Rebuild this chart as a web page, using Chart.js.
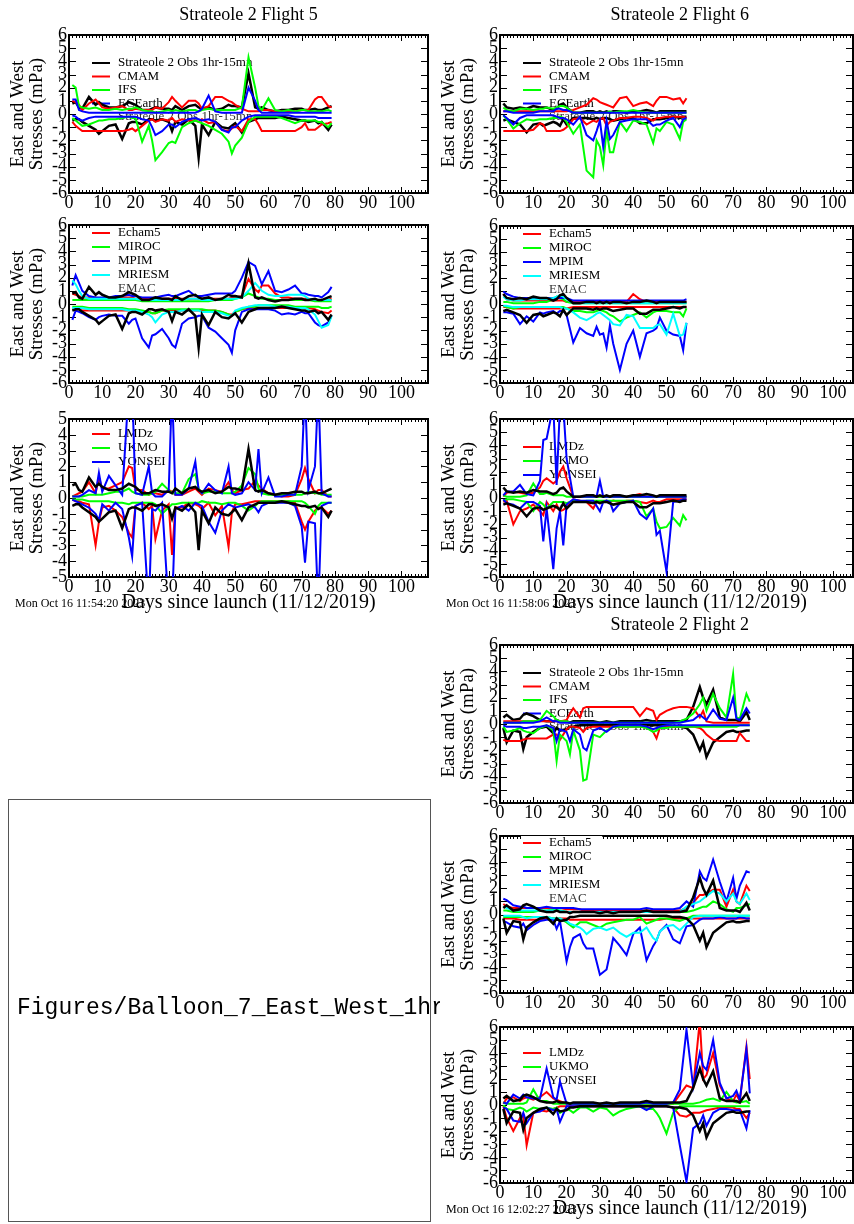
<!DOCTYPE html>
<html>
<head>
<meta charset="utf-8">
<script src="https://cdn.jsdelivr.net/npm/chart.js@4.4.0/dist/chart.umd.min.js"></script>
<style>
  body { margin: 0; width: 854px; height: 1224px; overflow: hidden; background: #fff; position: relative; }
  canvas { position: absolute; }
  #missing { position: absolute; left: 8px; top: 799px; width: 421px; height: 421px; border: 1px solid #555; }
  #missingText { position: absolute; left: 17px; top: 995px; width: 423px; overflow: hidden; white-space: nowrap;
                 font: 23px "Liberation Mono", monospace; line-height: 26px; color: #000; }
</style>
</head>
<body>
<canvas id="f5a"></canvas><canvas id="f5b"></canvas><canvas id="f5c"></canvas>
<canvas id="f6a"></canvas><canvas id="f6b"></canvas><canvas id="f6c"></canvas>
<canvas id="f2a"></canvas><canvas id="f2b"></canvas><canvas id="f2c"></canvas>
<div id="missing"></div>
<div id="missingText">Figures/Balloon_7_East_West_1hr</div>
<script>
// ── tick labels ──────────────────────────────────────────────────────────────
const xTicks  = [0, 10, 20, 30, 40, 50, 60, 70, 80, 90, 100]
const yTicks6 = [-6, -5, -4, -3, -2, -1, 0, 1, 2, 3, 4, 5, 6]
const yTicks5 = [-5, -4, -3, -2, -1, 0, 1, 2, 3, 4, 5]

// ── legends ──────────────────────────────────────────────────────────────────
const legendObs   = ["Strateole 2 Obs 1hr-15mn", "CMAM", "IFS", "ECEarth", "Strateole 2 Obs 1hr-15mn"]
const legendMid   = ["Echam5", "MIROC", "MPIM", "MRIESM", "EMAC"]
const legendLow   = ["LMDz", "UKMO", "YONSEI"]

// ── Flight 5 (days since launch) ─────────────────────────────────────────────
const days5 = [1,2,3,4,6,8,9,10, 12,14,16,18,19,20,22,24, 25,26,28,30,31,32,34,36, 38,39,40,42,44,46,48,49, 50,52,54,56,57,58,60,62, 64,66,68,70,71,72,74,75, 76,78,79]

const f5ObsE  = [0.8,0.9,0.5,0.4,1.3,0.7,0.9,0.7, 0.5,0.5,0.6,0.9,0.8,0.7,0.3,0.3, 0.4,0.5,0.4,0.4,0.3,0.6,0.3,0.6, 0.7,0.5,0.4,0.5,0.3,0.4,0.7,0.6, 0.6,0.5,3.1,0.5,0.4,0.5,0.3,0.2, 0.3,0.3,0.4,0.4,0.3,0.3,0.4,0.3, 0.3,0.5,0.6]
const f5ObsW  = [-0.5,-0.4,-0.4,-0.6,-0.9,-1.2,-1.5,-1.3, -0.9,-0.8,-1.9,-0.7,-0.6,-0.6,-0.8,-0.4, -0.4,-0.5,-0.4,-0.6,-1.3,-0.6,-0.8,-0.4, -0.9,-3.3,-0.8,-1.6,-0.6,-1.0,-1.1,-0.9, -0.7,-1.4,-0.6,-0.4,-0.3,-0.3,-0.3,-0.3, -0.2,-0.3,-0.4,-0.5,-0.5,-0.6,-0.5,-0.7, -0.6,-1.2,-0.8]
const f5CmamE = [1.0,0.9,0.7,0.3,0.8,1.1,0.8,0.5, 0.4,0.5,0.6,0.3,0.3,0.4,0.3,0.3, 0.3,0.5,0.4,0.9,1.3,1.0,0.5,1.0, 1.0,0.8,0.4,0.6,1.3,1.3,1.0,0.9, 0.7,0.4,0.2,0.2,0.2,0.3,0.3,0.2, 0.2,0.2,0.2,0.3,0.3,0.3,1.1,1.3, 1.3,0.6,0.5]
const f5CmamW = [-0.6,-0.9,-1.1,-1.3,-1.3,-1.3,-1.3,-1.3, -1.3,-1.3,-1.3,-1.2,-1.1,-1.3,-0.9,-0.5, -0.4,-0.6,-0.4,-0.5,-0.3,-0.6,-0.4,-0.5, -0.5,-0.6,-0.4,-0.7,-0.6,-1.2,-1.3,-1.1, -0.9,-1.3,-0.4,-0.4,-0.8,-1.3,-1.3,-1.3, -1.3,-1.3,-1.3,-1.0,-0.7,-1.2,-1.2,-1.0, -0.8,-0.7,-0.6]
const f5IfsE  = [2.2,2.0,0.6,0.5,0.4,0.5,0.4,0.3, 0.3,0.4,0.3,0.4,0.4,0.5,0.3,0.2, 0.2,0.1,0.2,0.3,0.2,0.3,0.2,0.3, 0.3,0.2,0.3,0.4,0.3,0.3,0.3,0.3, 0.3,0.5,4.3,2.0,0.6,0.3,1.2,0.3, 0.2,0.3,0.2,0.3,0.3,0.2,0.2,0.2, 0.2,0.3,0.2]
const f5IfsW  = [-0.3,-0.5,-0.7,-0.9,-0.8,-0.6,-0.5,-0.5, -0.4,-0.4,-0.3,-0.2,-0.3,-0.3,-2.1,-0.9, -2.0,-3.5,-2.9,-2.2,-2.1,-2.2,-1.0,-0.7, -0.5,-0.6,-0.7,-0.9,-1.2,-1.5,-2.1,-3.0, -2.4,-1.8,-0.6,-0.2,-0.2,-0.2,-0.2,-0.2, -0.3,-0.5,-0.7,-0.5,-0.5,-0.5,-0.5,-0.6, -0.6,-1.0,-0.7]
const f5EceE  = [1.1,1.1,0.3,0.2,0.1,0.1,0.1,0.1, 0.1,0.1,0.1,0.1,0.1,0.1,0.1,0.1, 0.1,0.1,0.1,0.1,0.1,0.1,0.1,0.1, 0.1,0.2,0.4,1.4,0.2,0.1,0.1,0.1, 0.1,0.1,2.0,1.0,0.3,0.1,0.1,0.1, 0.1,0.1,0.1,0.1,0.1,0.1,0.1,0.1, 0.1,0.1,0.1]
const f5EceW  = [-0.1,-0.2,-0.4,-0.5,-0.3,-0.2,-0.2,-0.2, -0.2,-0.2,-0.2,-0.2,-0.2,-0.2,-0.4,-0.5, -1.0,-1.6,-1.3,-0.8,-0.8,-1.0,-0.6,-0.4, -0.3,-0.4,-0.5,-0.4,-0.6,-1.2,-1.4,-1.0, -1.0,-0.5,-0.2,-0.1,-0.1,-0.1,-0.1,-0.1, -0.1,-0.1,-0.2,-0.2,-0.2,-0.2,-0.2,-0.3, -0.3,-0.3,-0.3]

const f5EchE  = [0.8,0.7,0.6,0.5,0.5,0.5,0.4,0.4, 0.4,0.5,0.5,0.5,0.5,0.4,0.4,0.4, 0.4,0.4,0.4,0.4,0.4,0.4,0.4,0.4, 0.4,0.4,0.4,0.4,0.4,0.4,0.4,0.5, 0.5,0.6,1.9,1.1,0.9,1.4,1.4,0.8, 0.5,0.5,0.4,0.4,0.4,0.4,0.3,0.3, 0.3,0.3,0.4]
const f5EchW  = [-0.4,-0.4,-0.4,-0.5,-0.5,-0.5,-0.5,-0.5, -0.5,-0.5,-0.5,-0.5,-0.5,-0.5,-0.6,-0.6, -0.7,-0.7,-0.5,-0.5,-0.5,-0.5,-0.5,-0.5, -0.5,-0.5,-0.5,-0.5,-0.5,-0.6,-0.8,-0.8, -0.6,-0.4,-0.3,-0.3,-0.3,-0.3,-0.3,-0.3, -0.3,-0.3,-0.3,-0.3,-0.3,-0.3,-0.4,-0.5, -0.6,-0.7,-0.5]
const f5MirE  = [0.3,0.3,0.3,0.3,0.3,0.3,0.3,0.3, 0.3,0.3,0.3,0.3,0.3,0.3,0.2,0.2, 0.2,0.2,0.2,0.2,0.2,0.2,0.2,0.2, 0.2,0.2,0.2,0.2,0.3,0.3,0.3,0.3, 0.4,0.5,0.8,0.6,0.5,0.4,0.4,0.3, 0.3,0.3,0.3,0.3,0.3,0.3,0.2,0.2, 0.2,0.2,0.2]
const f5MirW  = [-0.2,-0.2,-0.2,-0.2,-0.3,-0.3,-0.3,-0.3, -0.3,-0.3,-0.3,-0.4,-0.4,-0.4,-0.5,-0.6, -0.7,-0.7,-0.5,-0.4,-0.4,-0.4,-0.4,-0.4, -0.4,-0.4,-0.4,-0.5,-0.5,-0.6,-0.8,-0.9, -0.6,-0.4,-0.2,-0.2,-0.1,-0.1,-0.1,-0.1, -0.1,-0.1,-0.2,-0.2,-0.2,-0.2,-0.2,-0.2, -0.3,-0.3,-0.2]
const f5MpiE  = [1.4,2.2,1.6,1.0,0.6,0.5,0.5,0.5, 0.5,0.6,0.6,0.7,0.6,0.6,0.5,0.5, 0.5,0.5,0.6,0.7,0.6,0.6,0.8,1.0, 0.6,0.6,0.6,0.7,0.8,0.8,0.8,0.8, 1.0,2.0,3.2,2.9,2.2,1.5,2.5,1.0, 0.9,1.1,1.4,0.8,0.8,0.7,0.6,0.6, 0.5,0.9,1.3]
const f5MpiW  = [-1.2,-0.5,-0.6,-0.7,-1.0,-1.2,-1.0,-0.9, -0.8,-0.9,-0.9,-1.5,-1.2,-1.1,-2.6,-3.3, -2.4,-2.3,-1.9,-2.6,-3.1,-3.3,-1.5,-1.1, -1.0,-0.9,-0.9,-1.8,-2.1,-2.6,-3.1,-3.7, -2.0,-0.6,-0.4,-0.4,-0.4,-0.4,-0.4,-0.5, -0.8,-0.7,-0.8,-0.6,-0.7,-0.7,-1.4,-1.6, -1.7,-1.4,-0.9]
const f5MriE  = [1.8,1.5,1.0,0.6,0.4,0.4,0.4,0.4, 0.4,0.4,0.4,0.4,0.4,0.4,0.3,0.3, 0.3,0.3,0.3,0.3,0.3,0.3,0.3,0.4, 0.4,0.4,0.3,0.3,0.3,0.4,0.4,0.4, 0.4,0.5,1.0,1.6,1.3,1.0,0.7,0.6, 0.6,0.7,0.7,0.7,0.6,0.4,0.3,0.3, 0.3,0.3,0.3]
const f5MriW  = [-0.3,-0.3,-0.3,-0.3,-0.4,-0.4,-0.4,-0.4, -0.4,-0.4,-0.4,-0.5,-0.5,-0.5,-0.6,-0.8, -1.0,-1.4,-0.8,-0.6,-0.6,-0.6,-0.5,-0.5, -0.5,-0.5,-0.6,-0.6,-0.6,-0.7,-0.9,-0.9, -0.5,-0.3,-0.2,-0.1,-0.1,-0.1,-0.1,-0.2, -0.2,-0.2,-0.3,-0.3,-0.3,-0.4,-0.8,-1.3, -1.8,-1.6,-0.9]

const f5LmdE  = [0.1,0.2,0.3,0.4,1.0,0.3,1.3,0.6, 0.6,0.8,1.0,2.0,1.9,0.5,0.5,0.2, 0.3,0.3,0.2,0.5,0.4,0.2,0.2,0.4, 0.6,0.4,0.2,0.6,0.5,0.4,1.0,0.5, 0.3,0.5,0.6,1.1,0.8,0.6,0.3,0.2, 0.1,0.1,0.2,1.2,1.9,1.2,0.3,0.5, 0.5,0.1,0.1]
const f5LmdW  = [-0.1,-0.2,-0.2,-0.3,-0.4,-3.0,-1.5,-0.6, -0.5,-0.8,-1.2,-2.2,-2.5,-0.5,-0.3,-0.7, -0.5,-2.6,-0.8,-0.4,-3.6,-0.6,-0.6,-0.3, -0.4,-0.5,-0.7,-0.3,-1.1,-0.5,-3.1,-0.9, -0.4,-0.4,-0.3,-0.2,-0.2,-0.2,-0.2,-0.2, -0.2,-0.2,-0.3,-1.5,-2.0,-1.5,-0.8,-0.6, -0.6,-1.0,-0.8]
const f5UkmE  = [0.1,0.1,0.1,0.1,0.2,0.2,0.2,0.2, 0.3,0.4,0.4,0.6,0.4,0.3,0.2,0.2, 0.3,0.4,0.9,0.5,0.3,0.3,0.3,1.2, 1.5,0.6,0.3,0.4,0.4,0.3,0.3,0.3, 0.4,0.8,1.9,1.5,0.6,0.3,0.2,0.2, 0.2,0.2,0.2,0.2,0.3,0.4,0.3,0.3, 0.2,0.2,0.2]
const f5UkmW  = [-0.1,-0.1,-0.1,-0.1,-0.2,-0.2,-0.2,-0.2, -0.2,-0.3,-0.3,-0.4,-0.3,-0.3,-0.3,-0.3, -0.3,-0.4,-1.0,-0.6,-0.4,-0.4,-0.3,-0.3, -0.3,-0.3,-0.2,-0.3,-0.3,-0.4,-0.3,-0.3, -0.3,-0.5,-0.8,-0.5,-0.3,-0.2,-0.2,-0.2, -0.2,-0.2,-0.2,-0.2,-0.3,-0.5,-1.0,-0.5, -0.3,-0.3,-0.3]
const f5YonE  = [0.1,0.1,0.1,0.2,0.5,0.3,1.6,0.4, 1.4,0.8,0.2,7,7,0.3,0.2,2.0, 0.3,0.1,0.1,0.5,7,0.2,0.2,0.6, 2.3,0.5,0.3,0.9,0.5,0.3,2.0,0.3, 0.2,0.3,1.0,0.5,3.1,0.3,1.3,0.1, 0.1,0.2,0.2,2.0,7,0.5,2.0,7, 0.3,0.1,0.1]
const f5YonW  = [-0.1,-0.2,-0.3,-0.4,-0.6,-1.0,-1.4,-0.4, -0.8,-0.3,-0.7,-2.5,-3.7,-0.5,-0.3,-7, -0.7,-0.8,-0.3,-7,-7,-0.7,-0.5,-0.8, -0.3,-0.4,-0.5,-1.5,-2.2,-0.8,-0.4,-0.5, -0.6,-0.5,-0.4,-0.6,-0.9,-0.5,-0.3,-0.3, -0.3,-0.3,-0.5,-1.8,-4.1,-1.5,-1.6,-7, -0.5,-0.3,-0.3]

// ── Flight 6 ─────────────────────────────────────────────────────────────────
const days6 = [1,2,4,6,8,10,12,13, 14,16,17,18,19,20,22,24, 26,28,29,30,31,32,33,34, 36,38,40,42,44,46,47,48, 50,52,54,55,56]

const f6ObsE  = [0.8,0.5,0.4,0.5,0.4,0.6,0.5,0.5, 0.5,0.3,0.4,0.7,0.8,0.5,0.1,0.1, 0.2,0.2,0.1,0.2,0.1,0.2,0.1,0.2, 0.2,0.1,0.2,0.2,0.3,0.2,0.1,0.2, 0.2,0.2,0.2,0.2,0.2]
const f6ObsW  = [-0.5,-0.4,-0.6,-0.8,-1.4,-0.8,-0.7,-0.9, -0.8,-0.6,-0.7,-0.9,-0.4,-0.8,-0.3,-0.3, -0.3,-0.4,-0.3,-0.4,-0.3,-0.3,-0.4,-0.5, -0.4,-0.3,-0.3,-0.7,-0.7,-0.4,-0.4,-0.4, -0.3,-0.2,-0.3,-0.2,-0.2]
const f6CmamE = [0.2,0.2,0.2,0.2,0.2,0.2,0.2,0.2, 0.2,0.2,0.2,0.2,0.2,0.2,0.3,0.5, 0.7,1.2,1.1,0.9,0.8,0.7,0.6,0.5, 1.2,1.3,0.6,0.8,0.9,0.6,1.0,1.3, 1.3,1.1,1.2,0.8,1.2]
const f6CmamW = [-1.3,-1.3,-1.3,-1.3,-1.3,-1.2,-0.7,-0.8, -1.3,-1.3,-1.3,-1.3,-1.2,-1.0,-0.4,-0.3, -0.8,-0.5,-0.6,-0.4,-0.3,-0.9,-0.6,-0.5, -0.3,-0.3,-0.2,-0.2,-0.3,-0.5,-0.3,-0.3, -0.2,-0.2,-0.2,-0.2,-0.3]
const f6IfsE  = [0.5,0.3,0.2,0.4,0.4,0.3,0.4,0.4, 0.5,0.4,0.5,0.6,0.6,0.5,0.1,0.1, 0.1,0.1,0.1,0.1,0.1,0.1,0.2,0.1, 0.2,0.2,0.3,0.2,0.1,0.1,0.1,0.1, 0.1,0.1,0.1,0.1,0.1]
const f6IfsW  = [-0.1,-0.4,-1.1,-0.7,-0.4,-0.5,-0.4,-0.4, -0.4,-0.3,-0.3,-0.2,-0.3,-0.6,-1.5,-0.8, -4.3,-4.8,-2.0,-2.5,-3.9,-1.2,-2.9,-2.9, -0.6,-1.3,-0.5,-0.6,-0.8,-2.2,-1.1,-1.3, -0.6,-0.8,-1.9,-0.6,-0.4]
const f6EceE  = [0.2,0.2,0.1,0.1,0.1,0.1,0.2,0.2, 0.2,0.2,0.4,0.4,0.3,0.3,0.1,0.1, 0.1,0.1,0.1,0.1,0.1,0.1,0.1,0.1, 0.1,0.1,0.1,0.1,0.1,0.1,0.1,0.1, 0.1,0.1,0.1,0.1,0.1]
const f6EceW  = [-0.1,-0.3,-0.8,-0.3,-0.1,-0.1,-0.1,-0.1, -0.1,-0.1,-0.2,-0.3,-0.3,-0.4,-0.8,-0.2, -1.6,-2.0,-1.3,-0.5,-2.5,-0.5,-1.9,-1.6, -0.6,-0.5,-0.4,-0.4,-0.4,-0.9,-0.8,-0.8, -0.5,-0.3,-1.0,-0.4,-0.3]

const f6EchE  = [0.8,0.4,0.3,0.3,0.3,0.3,0.3,0.3, 0.3,0.3,0.3,0.3,0.3,0.2,0.2,0.2, 0.2,0.2,0.2,0.2,0.2,0.2,0.2,0.2, 0.2,0.2,0.8,0.4,0.2,0.2,0.2,0.2, 0.2,0.2,0.2,0.2,0.2]
const f6EchW  = [-0.2,-0.2,-0.3,-0.3,-0.3,-0.3,-0.3,-0.3, -0.3,-0.3,-0.3,-0.3,-0.3,-0.3,-0.2,-0.2, -0.2,-0.2,-0.2,-0.2,-0.2,-0.2,-0.2,-0.2, -0.2,-0.2,-0.2,-0.2,-0.2,-0.2,-0.2,-0.2, -0.2,-0.2,-0.2,-0.2,-0.2]
const f6MirE  = [0.2,0.2,0.1,0.1,0.1,0.1,0.2,0.2, 0.2,0.4,0.6,0.5,0.4,0.2,0.1,0.1, 0.1,0.1,0.1,0.1,0.1,0.1,0.1,0.1, 0.1,0.1,0.1,0.1,0.1,0.1,0.1,0.1, 0.1,0.1,0.1,0.1,0.1]
const f6MirW  = [-0.1,-0.2,-0.3,-0.2,-0.2,-0.2,-0.2,-0.2, -0.2,-0.2,-0.2,-0.2,-0.2,-0.3,-0.5,-0.5, -0.6,-0.6,-0.5,-0.4,-0.5,-0.6,-0.8,-0.9, -1.3,-1.0,-0.8,-0.6,-1.0,-0.6,-0.5,-0.5, -0.5,-0.6,-0.6,-0.9,-0.3]
const f6MpiE  = [1.0,0.8,0.6,0.5,0.5,0.5,0.5,0.5, 0.5,0.5,0.5,0.5,0.5,0.5,0.3,0.3, 0.3,0.3,0.3,0.3,0.3,0.3,0.3,0.3, 0.3,0.3,0.3,0.3,0.3,0.3,0.3,0.3, 0.3,0.3,0.3,0.3,0.4]
const f6MpiW  = [-0.6,-0.6,-0.7,-1.5,-0.9,-1.3,-0.6,-0.7, -0.6,-0.5,-0.7,-0.5,-0.5,-0.8,-2.9,-1.8, -2.2,-2.4,-1.7,-2.3,-2.2,-3.3,-1.6,-3.0, -5.0,-3.0,-2.0,-4.0,-2.2,-2.0,-1.8,-1.0, -2.0,-2.3,-2.4,-3.5,-1.4]
const f6MriE  = [0.6,0.4,0.3,0.3,0.4,0.4,0.4,0.4, 0.4,0.5,0.6,0.7,0.6,0.4,0.1,0.1, 0.1,0.1,0.1,0.1,0.1,0.1,0.1,0.1, 0.1,0.1,0.1,0.1,0.1,0.1,0.1,0.1, 0.1,0.1,0.1,0.1,0.1]
const f6MriW  = [-0.1,-0.1,-0.2,-0.2,-0.2,-0.2,-0.2,-0.2, -0.2,-0.2,-0.2,-0.2,-0.3,-0.3,-0.6,-1.0, -1.2,-0.9,-0.7,-0.6,-0.8,-1.0,-1.2,-1.5, -1.6,-0.8,-0.9,-1.8,-1.8,-1.8,-1.6,-1.5, -2.3,-0.7,-2.4,-2.3,-1.4]

const f6LmdE  = [0.1,0.4,0.5,0.4,0.3,0.4,0.8,1.3, 1.5,1.1,1.3,2.0,2.4,1.5,0.1,0.1, 0.1,0.1,0.1,0.1,0.1,0.1,0.1,0.1, 0.1,0.1,0.2,0.3,0.1,0.1,0.1,0.1, 0.1,0.1,0.1,0.1,0.1]
const f6LmdW  = [-0.3,-0.2,-2.0,-1.0,-0.8,-0.5,-1.0,-1.3, -0.3,-1.0,-0.5,-1.0,-0.9,-0.7,-0.1,-0.2, -0.3,-0.8,-0.3,-0.3,-0.3,-0.2,-0.3,-0.2, -0.3,-0.2,-0.2,-0.3,-0.4,-0.2,-0.3,-0.3, -0.1,-0.1,-0.1,-0.1,-0.1]
const f6UkmE  = [0.2,0.1,0.1,0.1,0.2,1.1,0.3,0.3, 0.4,0.2,0.2,0.2,0.2,0.1,0.1,0.1, 0.1,0.1,0.1,0.1,0.1,0.1,0.1,0.1, 0.1,0.1,0.1,0.1,0.1,0.1,0.1,0.1, 0.1,0.1,0.1,0.1,0.1]
const f6UkmW  = [-0.2,-0.1,-0.1,-0.2,-0.3,-1.0,-0.3,-0.5, -0.8,-0.3,-0.3,-0.3,-0.3,-0.4,-0.2,-0.3, -0.2,-0.2,-0.2,-0.2,-0.2,-0.2,-0.2,-0.2, -0.2,-0.2,-0.2,-0.3,-1.4,-0.8,-1.8,-2.3, -2.2,-1.5,-2.1,-1.3,-1.7]
const f6YonE  = [0.2,0.5,0.5,1.0,0.3,0.2,1.3,4.4, 4.5,7,1.0,7,7,3.0,0.1,0.1, 0.1,0.1,0.1,1.3,0.1,0.1,0.1,0.1, 0.1,0.1,0.1,0.1,0.1,0.1,0.1,0.1, 0.1,0.1,0.1,0.1,0.1]
const f6YonW  = [-0.1,-0.4,-0.5,-0.8,-0.3,-0.3,-0.6,-3.3, -0.8,-5.4,-2.3,-1.0,-3.6,-0.5,-0.1,-0.2, -0.2,-0.2,-0.6,-1.0,-0.3,-0.2,-0.3,-1.0, -0.4,-0.3,-0.2,-1.2,-1.6,-0.8,-2.8,-2.5, -5.6,-0.3,-0.2,-0.1,-0.1]

// ── Flight 2 ─────────────────────────────────────────────────────────────────
const days2 = [1,2,4,6,7,8,10,12, 14,16,17,18,20,21,22,24, 25,26,28,30,32,34,36,38, 40,42,44,46,47,48,50,52, 54,56,58,60,61,62,64,66, 68,70,71,72,74,75]

const f2ObsE  = [0.5,0.7,0.3,0.4,0.7,0.8,0.6,0.3, 0.2,0.2,0.3,0.2,0.2,0.1,0.2,0.2, 0.2,0.2,0.2,0.1,0.2,0.1,0.2,0.2, 0.2,0.2,0.3,0.2,0.2,0.2,0.2,0.2, 0.2,0.3,1.3,2.8,2.0,1.5,2.6,0.5, 0.3,0.3,0.3,0.2,0.9,0.3]
const f2ObsW  = [-0.3,-1.4,-0.5,-0.6,-1.9,-1.0,-0.6,-0.3, -0.2,-0.7,-0.3,-0.5,-0.4,-0.2,-0.2,-0.1, -0.1,-0.1,-0.1,-0.1,-0.1,-0.1,-0.1,-0.1, -0.1,-0.1,-0.1,-0.1,-0.1,-0.1,-0.1,-0.2, -0.2,-0.3,-0.8,-2.0,-1.4,-2.5,-1.4,-1.0, -0.6,-0.5,-0.6,-0.6,-0.5,-0.5]
const f2CmamE = [0.2,0.2,0.2,0.2,0.2,0.2,0.2,0.2, 0.2,0.2,0.2,0.2,0.3,0.8,1.2,0.5, 1.2,1.3,1.3,1.3,1.3,1.3,1.3,1.3, 1.3,0.6,1.2,1.0,0.3,0.7,1.0,1.2, 1.3,1.3,1.2,0.5,1.0,0.2,0.1,0.1, 0.1,0.1,0.1,0.1,0.1,0.1]
const f2CmamW = [-1.2,-1.3,-1.3,-1.3,-1.2,-1.1,-1.1,-1.1, -1.1,-0.8,-0.8,-1.2,-0.4,-0.2,-0.2,-0.3, -0.6,-0.3,-0.2,-0.2,-0.2,-0.2,-0.2,-0.2, -0.2,-0.2,-0.2,-0.6,-1.1,-0.3,-0.2,-0.2, -0.2,-0.2,-0.2,-0.3,-0.5,-0.8,-1.2,-1.3, -1.3,-1.3,-1.3,-0.7,-1.3,-1.3]
const f2IfsE  = [0.1,0.1,0.1,0.1,0.2,0.2,0.2,0.3, 1.0,0.6,0.3,0.2,0.2,0.1,0.1,0.1, 0.1,0.1,0.1,0.1,0.1,0.1,0.1,0.1, 0.1,0.1,0.1,0.1,0.1,0.1,0.1,0.1, 0.2,0.4,0.8,1.5,2.0,1.0,2.3,1.2, 0.5,3.8,0.5,0.4,2.3,1.7]
const f2IfsW  = [-0.2,-0.6,-0.5,-0.3,-0.5,-0.6,-0.7,-0.3, -0.1,-0.5,-2.8,-0.8,-1.3,-2.3,-0.5,-2.0, -4.3,-4.2,-0.8,-1.0,-0.5,-0.2,-0.2,-0.2, -0.2,-0.2,-0.3,-0.6,-0.5,-0.3,-0.3,-0.2, -0.2,-0.2,-0.2,-0.2,-0.2,-0.2,-0.2,-0.2, -0.2,-0.2,-0.2,-0.1,-0.1,-0.1]
const f2EceE  = [0.1,0.1,0.1,0.1,0.1,0.1,0.1,0.2, 0.5,0.2,0.2,0.1,0.1,0.1,0.1,0.1, 0.1,0.1,0.1,0.1,0.1,0.1,0.1,0.1, 0.1,0.1,0.1,0.1,0.1,0.1,0.1,0.1, 0.1,0.2,0.3,0.7,0.5,0.3,1.1,0.4, 0.3,2.0,0.4,0.3,1.2,0.8]
const f2EceW  = [-0.1,-0.2,-0.2,-0.2,-0.3,-0.3,-0.2,-0.2, -0.1,-0.3,-1.3,-0.4,-0.6,-1.3,-0.4,-0.8, -1.8,-2.0,-0.5,-0.3,-0.6,-0.2,-0.1,-0.1, -0.1,-0.1,-0.2,-0.4,-0.3,-0.2,-0.1,-0.1, -0.1,-0.1,-0.1,-0.1,-0.1,-0.1,-0.1,-0.1, -0.1,-0.1,-0.1,-0.1,-0.1,-0.1]

const f2EchE  = [0.8,0.6,0.5,0.5,0.5,0.5,0.5,0.5, 0.5,0.5,0.5,0.5,0.4,0.4,0.4,0.4, 0.3,0.3,0.3,0.3,0.3,0.3,0.3,0.3, 0.3,0.3,0.3,0.3,0.3,0.3,0.3,0.3, 0.3,0.5,0.9,1.5,1.5,1.6,1.9,1.9, 0.6,1.9,1.0,0.8,2.2,1.8]
const f2EchW  = [-0.3,-0.3,-0.3,-0.4,-0.4,-0.4,-0.4,-0.4, -0.3,-0.3,-0.3,-0.3,-0.3,-0.4,-0.4,-0.4, -0.4,-0.4,-0.4,-0.4,-0.4,-0.4,-0.4,-0.4, -0.4,-0.4,-0.4,-0.4,-0.4,-0.4,-0.3,-0.3, -0.3,-0.3,-0.3,-0.3,-0.3,-0.3,-0.3,-0.3, -0.3,-0.3,-0.3,-0.3,-0.3,-0.3]
const f2MirE  = [0.3,0.3,0.2,0.2,0.2,0.2,0.2,0.3, 0.3,0.4,0.4,0.3,0.2,0.2,0.2,0.2, 0.2,0.2,0.2,0.2,0.2,0.2,0.2,0.2, 0.2,0.2,0.2,0.2,0.2,0.2,0.2,0.2, 0.2,0.2,0.3,0.5,0.6,0.6,1.0,0.8, 0.4,0.2,0.5,0.5,0.7,0.8]
const f2MirW  = [-0.2,-0.2,-0.2,-0.2,-0.2,-0.2,-0.2,-0.2, -0.2,-0.3,-0.3,-0.3,-0.6,-0.8,-1.0,-0.6, -0.6,-0.6,-0.8,-1.0,-0.7,-0.6,-0.5,-0.4, -0.4,-0.2,-0.7,-0.5,-0.4,-0.3,-0.3,-0.4, -0.5,-0.3,-0.1,-0.1,-0.1,-0.1,-0.1,-0.1, -0.1,-0.1,-0.1,-0.1,-0.1,-0.1]
const f2MpiE  = [1.2,1.1,0.7,0.6,0.6,0.5,0.5,0.5, 0.6,0.5,0.5,0.5,0.5,0.5,0.5,0.4, 0.4,0.4,0.4,0.4,0.4,0.4,0.4,0.4, 0.4,0.4,0.5,0.4,0.4,0.4,0.4,0.4, 0.5,1.0,0.6,3.3,2.8,2.6,4.2,2.5, 1.0,2.8,1.2,2.2,3.3,3.2]
const f2MpiW  = [-0.5,-0.6,-0.9,-1.0,-0.7,-1.2,-0.8,-0.5, -0.4,-0.4,-1.1,-0.5,-3.6,-2.5,-1.8,-1.5, -2.2,-2.6,-2.6,-4.6,-4.2,-1.8,-2.4,-3.1, -1.5,-1.0,-3.5,-2.4,-2.0,-1.3,-0.8,-1.9, -2.2,-0.9,-0.8,-0.4,-0.3,-0.3,-0.3,-0.2, -0.3,-0.3,-0.3,-0.2,-0.3,-0.3]
const f2MriE  = [0.6,0.5,0.3,0.3,0.3,0.3,0.3,0.3, 0.3,0.3,0.3,0.3,0.2,0.2,0.2,0.2, 0.2,0.2,0.2,0.2,0.2,0.2,0.2,0.2, 0.2,0.2,0.2,0.2,0.2,0.2,0.2,0.2, 0.2,0.6,0.8,1.0,1.2,1.4,1.8,1.6, 1.0,1.6,1.0,0.8,1.6,1.1]
const f2MriW  = [-0.1,-0.1,-0.1,-0.1,-0.2,-0.3,-0.2,-0.2, -0.2,-0.3,-0.3,-0.3,-0.5,-0.7,-0.8,-1.0, -1.2,-1.5,-1.1,-1.0,-1.2,-1.0,-1.4,-1.7, -1.4,-1.4,-1.0,-1.8,-2.0,-1.3,-0.9,-0.8, -1.2,-0.7,-0.2,-0.1,-0.1,-0.1,-0.1,-0.1, -0.1,-0.1,-0.1,-0.1,-0.1,-0.1]

const f2LmdE  = [0.1,0.5,0.6,0.3,0.5,0.6,0.4,0.6, 1.0,0.5,0.4,0.3,0.1,0.1,0.1,0.1, 0.1,0.1,0.1,0.1,0.1,0.1,0.1,0.1, 0.1,0.1,0.1,0.1,0.1,0.1,0.1,0.1, 0.8,1.5,1.3,6.5,2.0,2.3,4.0,1.5, 0.5,0.3,0.8,0.3,4.5,2.0]
const f2LmdW  = [-0.1,-1.0,-2.0,-1.0,-0.8,-3.1,-0.6,-0.4, -0.5,-0.3,-0.2,-0.1,-0.1,-0.1,-0.1,-0.1, -0.1,-0.1,-0.1,-0.1,-0.1,-0.1,-0.1,-0.1, -0.1,-0.1,-0.1,-0.1,-0.1,-0.1,-0.1,-0.2, -0.8,-0.9,-0.6,-0.6,-0.5,-0.4,-0.3,-0.2, -0.2,-0.2,-0.3,-0.3,-1.0,-0.6]
const f2UkmE  = [0.2,0.1,0.1,0.1,0.1,0.2,1.2,0.3, 0.3,0.1,0.1,0.1,0.1,0.1,0.1,0.1, 0.1,0.1,0.1,0.1,0.1,0.1,0.1,0.1, 0.1,0.1,0.1,0.1,0.1,0.1,0.1,0.1, 0.1,0.1,0.1,0.2,0.3,0.4,0.5,0.3, 1.0,0.3,0.2,0.2,0.3,0.1]
const f2UkmW  = [0.0,-0.3,-0.4,-0.2,-0.3,-0.5,-0.2,-0.3, -0.2,-0.3,-0.2,-0.6,-0.3,-0.4,-0.6,-0.2, -0.2,-0.2,-0.5,-0.2,-0.3,-0.8,-0.5,-0.3, -0.2,-0.1,-0.3,-0.3,-0.6,-1.0,-2.2,-0.6, -0.1,-0.1,-0.1,-0.1,-0.1,-0.1,-0.1,-0.1, -0.1,-0.1,-0.1,-0.1,-0.1,-0.1]
const f2YonE  = [0.2,0.1,0.8,0.5,0.8,0.6,0.5,0.5, 2.8,0.6,0.4,1.8,0.1,0.1,0.1,0.1, 0.1,0.1,0.1,0.1,0.1,0.1,0.1,0.1, 0.1,0.1,0.2,0.1,0.1,0.1,0.1,0.2, 1.2,5.8,1.4,4.0,3.0,2.7,5.0,1.7, 0.5,0.7,1.1,0.4,4.3,0.9]
const f2YonW  = [-0.2,-0.3,-1.2,-1.3,-0.6,-1.4,-0.6,-0.5, -0.2,-0.4,-0.3,-1.3,-0.1,-0.1,-0.1,-0.1, -0.1,-0.1,-0.1,-0.1,-0.1,-0.1,-0.1,-0.1, -0.1,-0.1,-0.4,-0.1,-0.1,-0.1,-0.1,-0.2, -3.1,-5.9,-1.8,-1.4,-0.8,-1.6,-0.6,-0.3, -0.3,-0.4,-0.4,-0.4,-1.8,-0.4]

// ── styling ──────────────────────────────────────────────────────────────────
const BLACK = "#000000", RED = "#ff0000", GREEN = "#00ff00", BLUE = "#0000ff", CYAN = "#00ffff"
const SERIF = '"Liberation Serif", "Times New Roman", serif'

// one model = an east line and a west line
function pair(name, color, days, east, west, width) {
  const base = { borderColor: color, borderWidth: width || 2, pointRadius: 0, fill: false, tension: 0 }
  return [
    { ...base, label: name + " east", data: east.map((v, i) => ({ x: days[i], y: v })) },
    { ...base, label: name + " west", data: west.map((v, i) => ({ x: days[i], y: v })) }
  ]
}

// ── frame / ticks / labels / legend, XMGrace style ──────────────────────────
const framePlugin = {
  id: "frame",
  beforeDatasetsDraw(chart, args, o) {
    const { ctx, chartArea: a, scales: { x, y } } = chart
    ctx.save()
    ctx.strokeStyle = BLACK
    ctx.fillStyle = BLACK

    // inward ticks: every day on top/bottom, every unit on left/right
    ctx.lineWidth = 1
    ctx.beginPath()
    for (let d = 0; d <= o.xMax; d++) {
      const px = Math.round(x.getPixelForValue(d)) + 0.5
      const len = d % 10 ? 3 : 6
      ctx.moveTo(px, a.top); ctx.lineTo(px, a.top + len)
      ctx.moveTo(px, a.bottom); ctx.lineTo(px, a.bottom - len)
    }
    o.yTicks.forEach(v => {
      const py = Math.round(y.getPixelForValue(v)) + 0.5
      ctx.moveTo(a.left, py); ctx.lineTo(a.left + 7, py)
      ctx.moveTo(a.right, py); ctx.lineTo(a.right - 7, py)
    })
    ctx.stroke()
    ctx.lineWidth = 2
    ctx.strokeRect(a.left, a.top, a.right - a.left, a.bottom - a.top)

    // tick labels
    ctx.font = "18px " + SERIF
    ctx.textAlign = "right"; ctx.textBaseline = "middle"
    o.yTicks.forEach(v => ctx.fillText(String(v), a.left - 2, y.getPixelForValue(v)))
    ctx.textAlign = "center"; ctx.textBaseline = "top"
    xTicks.forEach(v => ctx.fillText(String(v), x.getPixelForValue(v), a.bottom + 1))

    // y title, two rotated lines
    const midY = (a.top + a.bottom) / 2
    ctx.font = "19px " + SERIF
    ctx.textBaseline = "middle"
    ;[["East and West", 51], ["Stresses (mPa)", 32]].forEach(([t, dx]) => {
      ctx.save()
      ctx.translate(a.left - dx, midY)
      ctx.rotate(-Math.PI / 2)
      ctx.fillText(t, 0, 0)
      ctx.restore()
    })

    // panel title
    if (o.title) {
      ctx.font = "18px " + SERIF
      ctx.fillText(o.title, x.getPixelForValue(54), a.top - 20)
    }

    // date stamp + x title under the bottom panel
    if (o.stamp) {
      ctx.font = "12px " + SERIF
      ctx.textAlign = "left"
      ctx.fillText(o.stamp, a.left - 54, a.bottom + 27)
      ctx.font = "20px " + SERIF
      ctx.textAlign = "center"
      ctx.fillText("Days since launch (11/12/2019)", x.getPixelForValue(54), a.bottom + 26)
    }

    // legend (white box, data drawn over it)
    const L = o.legend
    ctx.font = "13px " + SERIF
    const w = Math.max(...L.names.map(n => ctx.measureText(n).width))
    ctx.fillStyle = "#fff"
    ctx.fillRect(a.left + 21, a.top + L.top - 7, 30 + w, L.step * (L.names.length - 1) + 14)
    L.names.forEach((n, i) => {
      const py = a.top + L.top + i * L.step
      if (L.colors[i]) {
        ctx.strokeStyle = L.colors[i]
        ctx.lineWidth = 2
        ctx.beginPath(); ctx.moveTo(a.left + 23, py); ctx.lineTo(a.left + 41, py); ctx.stroke()
      }
      ctx.fillStyle = L.colors[i] ? BLACK : "#333"
      ctx.textAlign = "left"
      ctx.fillText(n, a.left + 49, py)
    })
    ctx.restore()
  }
}

function panel(id, box, opts, sets) {
  const cv = document.getElementById(id)
  const padL = 69, padT = 34, padB = 38, padR = box.r > 800 ? 1 : 4
  cv.width = box.r - box.l + padL + padR
  cv.height = box.b - box.t + padT + padB
  cv.style.left = (box.l - padL) + "px"
  cv.style.top = (box.t - padT) + "px"
  new Chart(cv, {
    type: "line",
    data: { datasets: sets.flat().reverse() },   // first listed is drawn first (bottom)
    options: {
      responsive: false,
      animation: false,
      events: [],
      layout: { padding: { left: padL, top: padT, right: padR, bottom: padB } },
      scales: {
        x: { type: "linear", display: false, min: 0, max: opts.xMax },
        y: { type: "linear", display: false, min: opts.yTicks[0], max: opts.yTicks[opts.yTicks.length - 1] }
      },
      plugins: { legend: { display: false }, tooltip: { enabled: false }, frame: opts }
    },
    plugins: [framePlugin]
  })
}

const legTop = (top, step) => ({ names: legendObs, colors: [BLACK, RED, GREEN, BLUE, null], top, step })
const legMid = (top) => ({ names: legendMid, colors: [RED, GREEN, BLUE, CYAN, null], top, step: 14 })
const legLow = (top) => ({ names: legendLow, colors: [RED, GREEN, BLUE], top, step: 14 })

const LEFT  = { l: 69, r: 428 }
const RIGHT = { l: 500, r: 853 }

// Flight 5
panel("f5a", { ...LEFT, t: 35, b: 193 }, { xMax: 108, yTicks: yTicks6, title: "Strateole 2 Flight 5", legend: legTop(28, 13.5) }, [
  pair("Obs", BLACK, days5, f5ObsE, f5ObsW, 2.5),
  pair("CMAM", RED, days5, f5CmamE, f5CmamW),
  pair("IFS", GREEN, days5, f5IfsE, f5IfsW),
  pair("ECEarth", BLUE, days5, f5EceE, f5EceW)
])
panel("f5b", { ...LEFT, t: 225, b: 383 }, { xMax: 108, yTicks: yTicks6, legend: legMid(8) }, [
  pair("Echam5", RED, days5, f5EchE, f5EchW),
  pair("MIROC", GREEN, days5, f5MirE, f5MirW),
  pair("MPIM", BLUE, days5, f5MpiE, f5MpiW),
  pair("MRIESM", CYAN, days5, f5MriE, f5MriW),
  pair("Obs", BLACK, days5, f5ObsE, f5ObsW, 2.5)
])
panel("f5c", { ...LEFT, t: 419, b: 577 }, { xMax: 108, yTicks: yTicks5, legend: legLow(15), stamp: "Mon Oct 16 11:54:20 2023" }, [
  pair("LMDz", RED, days5, f5LmdE, f5LmdW),
  pair("UKMO", GREEN, days5, f5UkmE, f5UkmW),
  pair("YONSEI", BLUE, days5, f5YonE, f5YonW),
  pair("Obs", BLACK, days5, f5ObsE, f5ObsW, 2.5)
])

// Flight 6
panel("f6a", { ...RIGHT, t: 35, b: 193 }, { xMax: 106, yTicks: yTicks6, title: "Strateole 2 Flight 6", legend: legTop(28, 13.5) }, [
  pair("Obs", BLACK, days6, f6ObsE, f6ObsW, 2.5),
  pair("CMAM", RED, days6, f6CmamE, f6CmamW),
  pair("IFS", GREEN, days6, f6IfsE, f6IfsW),
  pair("ECEarth", BLUE, days6, f6EceE, f6EceW)
])
panel("f6b", { ...RIGHT, t: 226, b: 383 }, { xMax: 106, yTicks: yTicks6, legend: legMid(8) }, [
  pair("Echam5", RED, days6, f6EchE, f6EchW),
  pair("MIROC", GREEN, days6, f6MirE, f6MirW),
  pair("MPIM", BLUE, days6, f6MpiE, f6MpiW),
  pair("MRIESM", CYAN, days6, f6MriE, f6MriW),
  pair("Obs", BLACK, days6, f6ObsE, f6ObsW, 2.5)
])
panel("f6c", { ...RIGHT, t: 419, b: 577 }, { xMax: 106, yTicks: yTicks6, legend: legLow(28), stamp: "Mon Oct 16 11:58:06 2023" }, [
  pair("LMDz", RED, days6, f6LmdE, f6LmdW),
  pair("UKMO", GREEN, days6, f6UkmE, f6UkmW),
  pair("YONSEI", BLUE, days6, f6YonE, f6YonW),
  pair("Obs", BLACK, days6, f6ObsE, f6ObsW, 2.5)
])

// Flight 2
panel("f2a", { ...RIGHT, t: 645, b: 803 }, { xMax: 106, yTicks: yTicks6, title: "Strateole 2 Flight 2", legend: legTop(28, 13.5) }, [
  pair("Obs", BLACK, days2, f2ObsE, f2ObsW, 2.5),
  pair("CMAM", RED, days2, f2CmamE, f2CmamW),
  pair("IFS", GREEN, days2, f2IfsE, f2IfsW),
  pair("ECEarth", BLUE, days2, f2EceE, f2EceW)
])
panel("f2b", { ...RIGHT, t: 836, b: 993 }, { xMax: 106, yTicks: yTicks6, legend: legMid(7) }, [
  pair("Echam5", RED, days2, f2EchE, f2EchW),
  pair("MIROC", GREEN, days2, f2MirE, f2MirW),
  pair("MPIM", BLUE, days2, f2MpiE, f2MpiW),
  pair("MRIESM", CYAN, days2, f2MriE, f2MriW),
  pair("Obs", BLACK, days2, f2ObsE, f2ObsW, 2.5)
])
panel("f2c", { ...RIGHT, t: 1027, b: 1183 }, { xMax: 106, yTicks: yTicks6, legend: legLow(26), stamp: "Mon Oct 16 12:02:27 2023" }, [
  pair("LMDz", RED, days2, f2LmdE, f2LmdW),
  pair("UKMO", GREEN, days2, f2UkmE, f2UkmW),
  pair("YONSEI", BLUE, days2, f2YonE, f2YonW),
  pair("Obs", BLACK, days2, f2ObsE, f2ObsW, 2.5)
])
</script>
</body>
</html>
